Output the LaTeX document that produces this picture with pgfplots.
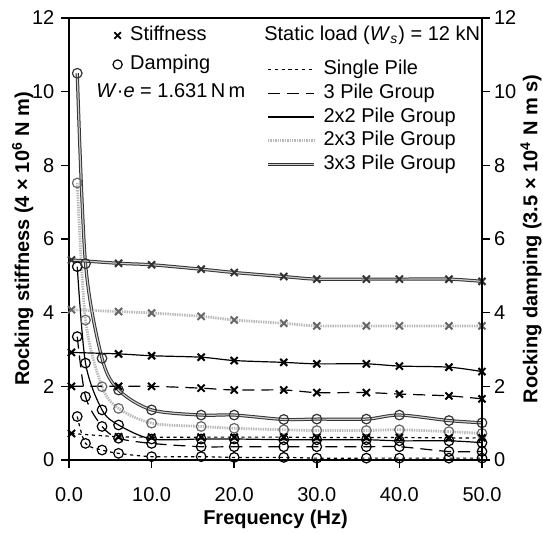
\documentclass[border=0pt]{standalone}
\usepackage{fontspec}
\setmainfont{Liberation Sans}
\usepackage{pgfplots}
\pgfplotsset{compat=1.18}

\pgfplotsset{
  frame/.style={
    width=206.5pt, height=221pt, scale only axis,
    xmin=0, xmax=50, ymin=0, ymax=12,
    ytick={0,2,...,12},
    tick align=outside, major tick length=3.8pt,
    axis line style={line width=0.8pt},
    every tick/.style={black, line width=0.8pt},
    tick label style={font=\fontsize{10}{12}\selectfont},
    label style={font=\bfseries\fontsize{10}{12}\selectfont},
    /pgf/number format/assume math mode=true,
  },
  single/.style={black, line width=0.6pt, dash pattern=on 1.6pt off 1.8pt},
  threep/.style={black, line width=0.6pt, dash pattern=on 6pt off 3.5pt},
  twotwo/.style={black, line width=0.6pt},
  twothree/.style={gray!55, line width=1.4pt, dash pattern=on 0.7pt off 0.5pt},
  threethree/.style={black!80, line width=0.5pt, double=gray!40, double distance=0.6pt},
  stiff/.style={mark=x, mark size=2.5pt, mark options={solid, line width=1pt}},
  damp/.style={mark=o, mark size=2.4pt, mark options={solid, line width=0.6pt}},
  greystiff/.style={mark=x, mark size=2.5pt, mark options={solid, draw=black!60, line width=1pt}},
  greydamp/.style={mark=o, mark size=2.4pt, mark options={solid, draw=black!60, line width=0.6pt}},
}

\begin{document}
\begin{tikzpicture}
% page the size of the reference
\path[use as bounding box] (-34.5pt,-36.5pt) rectangle (237pt,230pt);

\begin{axis}[
    frame,
    tick pos=left,
    xtick={0,10,...,50},
    xticklabel style={yshift=-6.5pt, /pgf/number format/.cd, fixed, fixed zerofill, precision=1},
    xlabel={Frequency (Hz)},
    ylabel={Rocking stiffness (4 × 10\textsuperscript{6} N m)},
    x label style={at={(axis description cs:0.5,-0.1335)}, anchor=center},
    y label style={at={(axis description cs:-0.112,0.5)}, anchor=center},
    legend style={at={(rel axis cs:0.1056,0.984)}, anchor=north west, draw=none, fill=none,
      inner sep=0pt, row sep=4.5pt, column sep=4pt,
      font=\fontsize{10}{12}\selectfont,
      nodes={text height=7.5pt, text depth=2.5pt, inner sep=0pt}},
    legend cell align=left,
]

% ---- damping (circles) ----
\addplot[single, damp, smooth, forget plot] coordinates {
  (1,1.18) (2,0.45) (4,0.27) (6,0.18) (10,0.09) (16,0.09) (20,0.07) (26,0.07)
  (30,0.05) (36,0.05) (40,0.05) (46,0.05) (50,0.05)};
\addplot[threep, damp, smooth, forget plot] coordinates {
  (1,3.35) (2,1.72) (4,0.91) (6,0.59) (10,0.45) (16,0.36) (20,0.36) (26,0.36)
  (30,0.36) (36,0.36) (40,0.36) (46,0.23) (50,0.23)};
\addplot[twotwo, damp, smooth, forget plot] coordinates {
  (1,5.25) (2,2.63) (4,1.36) (6,0.95) (10,0.57) (16,0.57) (20,0.57) (26,0.55)
  (30,0.55) (36,0.55) (40,0.52) (46,0.52) (50,0.47)};
\addplot[twothree, greydamp, smooth, forget plot] coordinates {
  (1,7.52) (2,3.80) (4,1.99) (6,1.40) (10,1.00) (16,0.91) (20,0.86) (26,0.82)
  (30,0.80) (36,0.80) (40,0.82) (46,0.77) (50,0.72)};
\addplot[threethree, damp, smooth, forget plot] coordinates {
  (1,10.5) (2,5.33) (4,2.76) (6,1.90) (10,1.36) (16,1.22) (20,1.22) (26,1.10)
  (30,1.11) (36,1.11) (40,1.22) (46,1.07) (50,1.01)};

% ---- stiffness (crosses) ----
\addplot[single, stiff, smooth, forget plot] coordinates {
  (0.3,0.72) (6,0.63) (10,0.62) (16,0.62) (20,0.62) (26,0.62) (30,0.61)
  (36,0.61) (40,0.61) (46,0.60) (50,0.60)};
\addplot[threep, stiff, smooth, forget plot] coordinates {
  (0.3,2.00) (6,2.00) (10,2.00) (16,1.95) (20,1.90) (26,1.90) (30,1.83)
  (36,1.83) (40,1.79) (46,1.74) (50,1.66)};
\addplot[twotwo, stiff, smooth, forget plot] coordinates {
  (0.3,2.92) (6,2.88) (10,2.83) (16,2.79) (20,2.70) (26,2.65) (30,2.61)
  (36,2.61) (40,2.55) (46,2.52) (50,2.40)};
\addplot[twothree, greystiff, smooth, forget plot] coordinates {
  (0.3,4.08) (6,4.03) (10,3.99) (16,3.90) (20,3.80) (26,3.71) (30,3.64)
  (36,3.64) (40,3.64) (46,3.64) (50,3.64)};
\addplot[threethree, stiff, smooth, forget plot] coordinates {
  (0.3,5.43) (6,5.34) (10,5.30) (16,5.18) (20,5.09) (26,4.98) (30,4.91)
  (36,4.91) (40,4.91) (46,4.91) (50,4.85)};

\addlegendimage{only marks, mark=x, mark size=2.3pt, mark options={line width=0.9pt}}
\addlegendentry{Stiffness}
\addlegendimage{only marks, mark=o, mark size=2.3pt, mark options={line width=0.6pt}}
\addlegendentry{Damping}

\node[anchor=base west, font=\fontsize{10}{12}\selectfont, inner sep=0pt]
  at (axis cs:3.27,9.83) {\textit{W}·\textit{e} = 1.631\,N\,m};
\node[anchor=base west, font=\fontsize{10}{12}\selectfont, inner sep=0pt]
  at (axis cs:23.6,11.40) {Static load (\textit{W}\textsubscript{\textit{s}}) = 12 kN};
\end{axis}

\begin{axis}[
    frame,
    axis y line*=right, axis x line=none,
    yticklabel style={xshift=-1.3pt},
    ylabel={Rocking damping (3.5 × 10\textsuperscript{4} N m s)},
    y label style={at={(axis description cs:1.119,0.5)}, anchor=center},
    legend style={at={(rel axis cs:0.477,0.907)}, anchor=north west, draw=none, fill=none,
      inner sep=0pt, row sep=1.9pt, column sep=4pt,
      font=\fontsize{10}{12}\selectfont,
      nodes={text height=7.5pt, text depth=2.5pt, inner sep=0pt}},
    legend cell align=left,
    legend image code/.code={\draw[#1] (0pt,0pt) -- (23pt,0pt);},
]
\addlegendimage{single}
\addlegendentry{Single Pile}
\addlegendimage{threep}
\addlegendentry{3 Pile Group}
\addlegendimage{twotwo}
\addlegendentry{2x2 Pile Group}
\addlegendimage{twothree}
\addlegendentry{2x3 Pile Group}
\addlegendimage{threethree}
\addlegendentry{3x3 Pile Group}
\end{axis}
\end{tikzpicture}
\end{document}
